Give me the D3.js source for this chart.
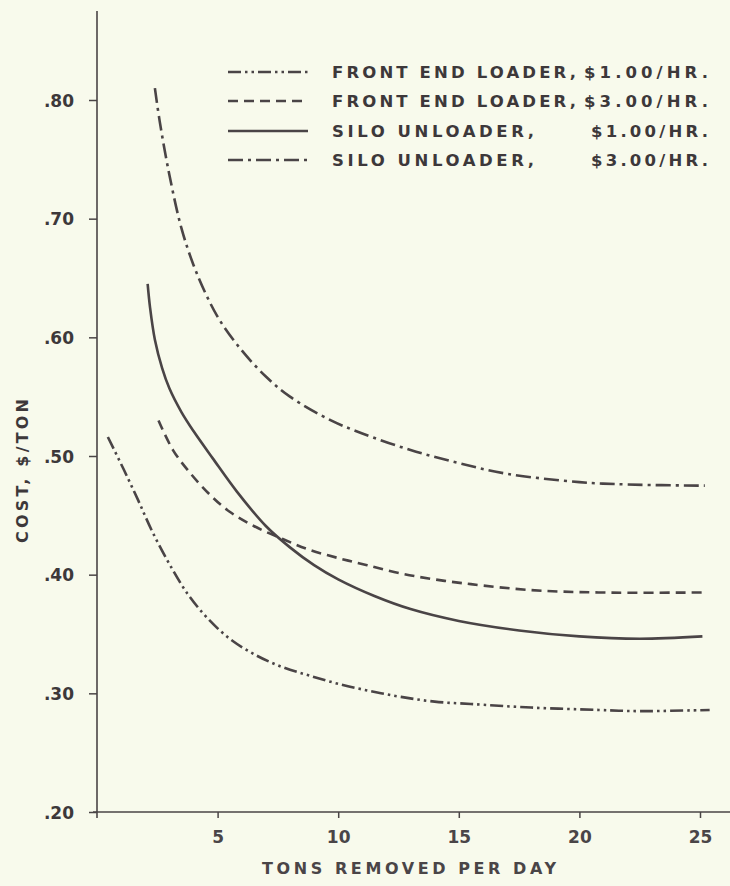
<!DOCTYPE html>
<html><head><meta charset="utf-8">
<script src="https://cdn.jsdelivr.net/npm/d3@7"></script>
<style>
html,body{margin:0;padding:0;background:#f8faec;}
svg{display:block;}
text{font-family:"DejaVu Sans","Liberation Sans",Arial,sans-serif;font-weight:bold;fill:#3d383a;}
</style></head>
<body>
<script>
// ---- data ----
const xTicks = [5, 10, 15, 20, 25];
const yTicks = [0.20, 0.30, 0.40, 0.50, 0.60, 0.70, 0.80];
const yTickLabels = [".20", ".30", ".40", ".50", ".60", ".70", ".80"];
const seriesNames = ["FRONT END LOADER,", "FRONT END LOADER,", "SILO UNLOADER,", "SILO UNLOADER,"];
const seriesRates = ["$1.00/HR.", "$3.00/HR.", "$1.00/HR.", "$3.00/HR."];
const frontEnd1 = [[0.45,0.516],[1.1,0.489],[1.7,0.463],[2.3,0.436],[3.0,0.409],[3.75,0.384],[4.55,0.364],[5.5,0.346],[6.6,0.332],[7.7,0.322],[8.8,0.315],[10,0.308],[11.3,0.302],[12.6,0.297],[14,0.293],[15.5,0.291],[18,0.288],[20.8,0.286],[22.5,0.285],[25.4,0.286]];
const frontEnd3 = [[2.55,0.53],[3.15,0.505],[3.85,0.486],[4.7,0.467],[5.5,0.453],[6.5,0.441],[7.7,0.430],[8.8,0.421],[10,0.414],[11.2,0.408],[12.6,0.401],[14,0.396],[15.5,0.392],[18,0.387],[20.8,0.385],[25.3,0.385]];
const silo1 = [[2.1,0.645],[2.2,0.625],[2.4,0.598],[2.7,0.574],[3.0,0.557],[3.5,0.537],[4.0,0.521],[4.8,0.498],[5.8,0.470],[7.0,0.441],[8.0,0.423],[9.0,0.408],[10.0,0.396],[11.5,0.382],[13.0,0.371],[15.0,0.361],[17.5,0.353],[20.0,0.348],[22.5,0.346],[25.1,0.348]];
const silo3 = [[2.4,0.81],[2.6,0.782],[3.0,0.737],[3.5,0.692],[4.0,0.661],[4.5,0.637],[5.1,0.614],[6,0.589],[7,0.567],[8,0.550],[9.7,0.530],[11,0.519],[13,0.505],[15,0.494],[17,0.485],[20,0.478],[22,0.476],[25.2,0.475]];

const W = 730, H = 886;
const ink = "#4a4446";
const svg = d3.select("body").append("svg").attr("width", W).attr("height", H);

const x = d3.scaleLinear().domain([0, 25]).range([97, 700]);
const y = d3.scaleLinear().domain([0.2, 0.8]).range([812, 100]);

// axes lines
svg.append("line").attr("x1", 97).attr("x2", 97).attr("y1", 11).attr("y2", 818)
  .attr("stroke", ink).attr("stroke-width", 1.6);
svg.append("line").attr("x1", 93).attr("x2", 730).attr("y1", 812).attr("y2", 812)
  .attr("stroke", ink).attr("stroke-width", 1.6);

const tickFont = s => s.style("font-size", "17px").style("fill", "#3d383a")
  .style("font-family", "DejaVu Sans, Liberation Sans, Arial, sans-serif").style("font-weight", "bold");

// y ticks
const yAxis = svg.append("g").attr("transform", "translate(97,0)")
  .call(d3.axisLeft(y).tickValues(yTicks).tickSize(8).tickPadding(0).tickFormat((d, i) => yTickLabels[i]));
yAxis.select(".domain").remove();
yAxis.selectAll(".tick line").attr("stroke", ink).attr("stroke-width", 1.5);
yAxis.selectAll(".tick text").attr("x", -23).attr("dy", "0.36em").call(tickFont);

// x ticks
const xAxis = svg.append("g").attr("transform", "translate(0,812)")
  .call(d3.axisBottom(x).tickValues(xTicks).tickSize(6).tickPadding(0).tickFormat(d3.format("d")));
xAxis.select(".domain").remove();
xAxis.selectAll(".tick line").attr("stroke", ink).attr("stroke-width", 1.5);
xAxis.selectAll(".tick text").attr("y", 31).attr("dy", 0).call(tickFont).style("fill", "#4a4547");

// axis titles
svg.append("text").attr("x", 409).attr("y", 874).attr("text-anchor", "middle")
  .attr("textLength", 294).attr("lengthAdjust", "spacing")
  .style("font-size", "16px").style("fill", "#4a4547").text("TONS REMOVED PER DAY");
svg.append("text").attr("transform", "translate(28,471) rotate(-90)").attr("text-anchor", "middle")
  .attr("textLength", 144).attr("lengthAdjust", "spacing")
  .style("font-size", "16px").text("COST, $/TON");

// series
const dashes = ["13,4,2.5,4,2.5,4", "10,6", null, "15,5,3,5"];
const series = [frontEnd1, frontEnd3, silo1, silo3];
const line = d3.line().x(d => x(d[0])).y(d => y(d[1])).curve(d3.curveCatmullRom.alpha(0.5));
series.forEach((s, i) => {
  svg.append("path").datum(s).attr("d", line).attr("fill", "none")
    .attr("stroke", ink).attr("stroke-width", 2.6)
    .attr("stroke-dasharray", dashes[i]);
});

// legend
const rowY = [72, 101, 131, 160];
const nameLen = [244, 244, 202, 202];
const rateX = [584, 584, 591, 591];
rowY.forEach((ry, i) => {
  svg.append("line").attr("x1", 228).attr("x2", 308).attr("y1", ry).attr("y2", ry)
    .attr("stroke", ink).attr("stroke-width", 2.6).attr("stroke-dasharray", dashes[i]);
  svg.append("text").attr("x", 332).attr("y", ry).attr("dy", "0.36em")
    .attr("textLength", nameLen[i]).attr("lengthAdjust", "spacing")
    .style("font-size", "16.5px").text(seriesNames[i]);
  svg.append("text").attr("x", rateX[i]).attr("y", ry).attr("dy", "0.36em")
    .attr("textLength", 708 - rateX[i]).attr("lengthAdjust", "spacing")
    .style("font-size", "16.5px").text(seriesRates[i]);
});
</script>
</body></html>
